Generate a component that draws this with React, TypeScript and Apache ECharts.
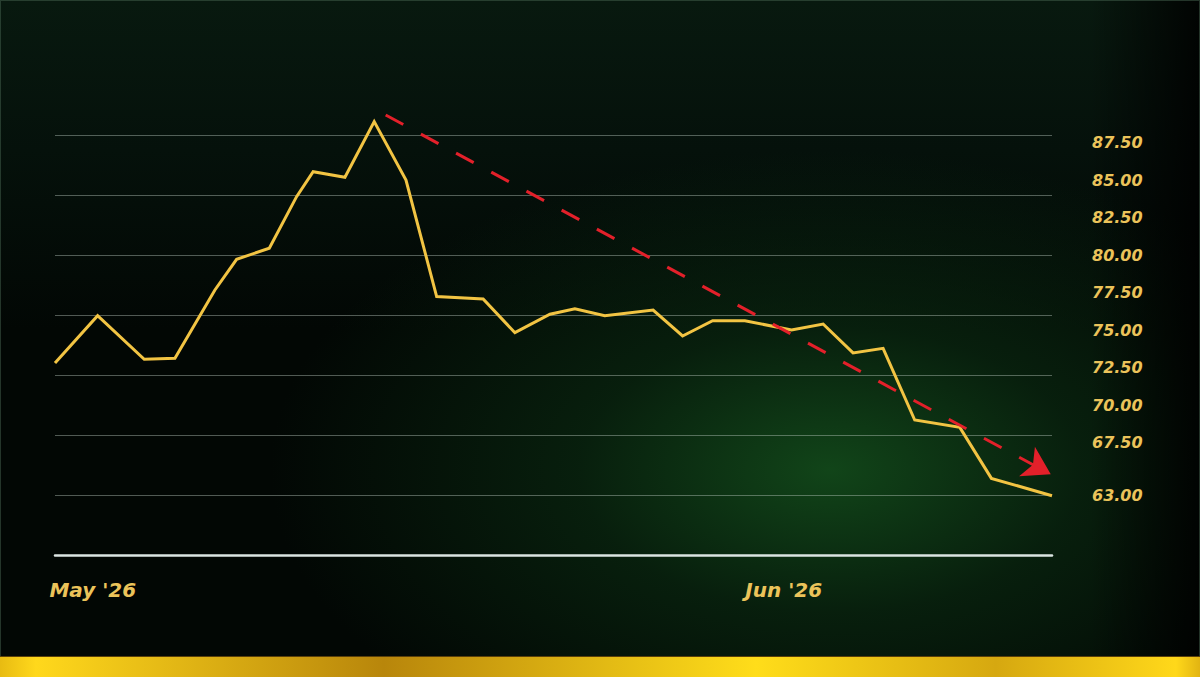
import React, { useEffect, useRef } from "react";
import * as echarts from "echarts";

// x position of each close, in sessions since the start of May
const sessions = [
  0, 2.75, 5.76, 7.74, 10.32, 11.72, 13.83, 15.59, 16.66, 18.71,
  20.6, 22.65, 24.63, 27.63, 29.68, 31.94, 33.55, 35.48, 38.6, 40.5,
  42.44, 44.52, 47.53, 49.57, 51.5, 53.44, 55.48, 58.39, 60.43, 64.34,
];
const prices = [
  72.8, 75.95, 73.05, 73.11, 77.67, 79.71, 80.45, 83.89, 85.55, 85.18,
  88.89, 85.0, 77.23, 77.07, 74.82, 76.05, 76.42, 75.95, 76.33, 74.6,
  75.62, 75.62, 75.0, 75.4, 73.47, 73.78, 69.0, 68.51, 65.11, 63.95,
];

const monthTicks = [2.44, 47.03];
const monthLabels = ["May '26", "Jun '26"];

const yTickValues = [87.5, 85, 82.5, 80, 77.5, 75, 72.5, 70, 67.5, 64];
const yTickLabels = ["87.50", "85.00", "82.50", "80.00", "77.50", "75.00", "72.50", "70.00", "67.50", "63.00"];

// dashed trend arrow, [session, price]
const trendFrom = [21.34, 89.33];
const trendTo = [64.26, 65.38];

const GOLD = "#f2c443";
const LABEL_GOLD = "#ebc35a";
const RED = "#e3202a";

const App = () => {
  const chartRef = useRef<HTMLDivElement | null>(null);

  useEffect(() => {
    if (!chartRef.current) return;
    const chart = echarts.init(chartRef.current, null, { renderer: "svg" });

    const trendSeries = (rotate: number) => ({
      id: "trend",
      type: "line",
      clip: false,
      silent: true,
      symbol: "none",
      z: 4,
      lineStyle: { color: RED, width: 3, type: [20, 20] },
      itemStyle: { color: RED },
      data: [
        { value: trendFrom, symbol: "none" },
        { value: trendTo, symbol: "arrow", symbolSize: [25, 27], symbolRotate: rotate },
      ],
    });

    const options = {
      animation: false,
      backgroundColor: "transparent",
      grid: { left: 55, right: 148, top: 135, bottom: 122 },
      xAxis: {
        type: "value",
        min: 0,
        max: sessions[sessions.length - 1],
        axisLine: { show: true, lineStyle: { color: "#dbe5e2", width: 2.5 } },
        axisTick: { show: false },
        splitLine: { show: false },
        axisLabel: {
          customValues: monthTicks,
          formatter: (v: number) => monthLabels[monthTicks.indexOf(v)] ?? "",
          color: LABEL_GOLD,
          fontFamily: "DejaVu Sans",
          fontWeight: "bold",
          fontStyle: "italic",
          fontSize: 20,
          align: "center",
          verticalAlign: "middle",
          margin: 35,
        },
      },
      yAxis: [
        {
          type: "value",
          min: 60,
          max: 88,
          interval: 4,
          axisLine: { show: false },
          axisTick: { show: false },
          axisLabel: { show: false },
          splitLine: { lineStyle: { color: "rgba(190,205,195,0.42)", width: 1 } },
        },
        {
          type: "value",
          position: "right",
          min: 60,
          max: 88,
          axisLine: { show: false },
          axisTick: { show: false },
          splitLine: { show: false },
          axisLabel: {
            customValues: yTickValues,
            formatter: (v: number) => yTickLabels[yTickValues.indexOf(v)] ?? "",
            color: LABEL_GOLD,
            fontFamily: "DejaVu Sans",
            fontWeight: "bold",
            fontStyle: "italic",
            fontSize: 16,
            align: "left",
            margin: 40,
          },
        },
      ],
      series: [
        {
          id: "price",
          type: "line",
          data: sessions.map((s, i) => [s, prices[i]]),
          showSymbol: false,
          clip: false,
          lineStyle: { color: GOLD, width: 3, join: "miter" },
          z: 3,
        },
        trendSeries(0),
      ],
      graphic: [
        {
          type: "rect",
          shape: { x: 0, y: 656, width: 1200, height: 1 },
          style: { fill: "#5a3f0a" },
        },
        {
          type: "rect",
          shape: { x: 0, y: 657, width: 1200, height: 20 },
          style: {
            fill: new echarts.graphic.LinearGradient(0, 0, 1, 0, [
              { offset: 0, color: "#e8bb12" },
              { offset: 0.03, color: "#ffd81c" },
              { offset: 0.32, color: "#b8860b" },
              { offset: 0.63, color: "#ffdd1a" },
              { offset: 0.83, color: "#d6a810" },
              { offset: 0.98, color: "#ffd81a" },
              { offset: 1, color: "#e2b412" },
            ]),
          },
        },
      ],
    };

    chart.setOption(options);

    // point the arrow head along the trend line, in screen space
    const p1 = chart.convertToPixel({ gridIndex: 0 }, trendFrom) as number[];
    const p2 = chart.convertToPixel({ gridIndex: 0 }, trendTo) as number[];
    const rotate = ((-Math.atan2(p2[1] - p1[1], p2[0] - p1[0]) - Math.PI / 2) * 180) / Math.PI;
    chart.setOption({ series: [{ id: "price" }, trendSeries(rotate)] });

    return () => chart.dispose();
  }, []);

  return (
    <div
      ref={chartRef}
      style={{
        position: "fixed",
        left: 0,
        top: 0,
        width: 1200,
        height: 677,
        boxShadow: "inset 0 0 0 1px rgba(70,100,80,0.5)",
        background: [
          "linear-gradient(to left, rgba(0,0,0,0.85) 0px, rgba(0,0,0,0) 110px)",
          "radial-gradient(ellipse 560px 320px at 830px 470px, rgba(18,72,26,0.95) 0%, rgba(12,50,20,0.55) 45%, rgba(0,0,0,0) 100%)",
          "linear-gradient(to bottom, #08190f 0px, #05110b 150px, rgba(3,10,6,0) 330px)",
          "#020704",
        ].join(", "),
      }}
    />
  );
};

export default App;
